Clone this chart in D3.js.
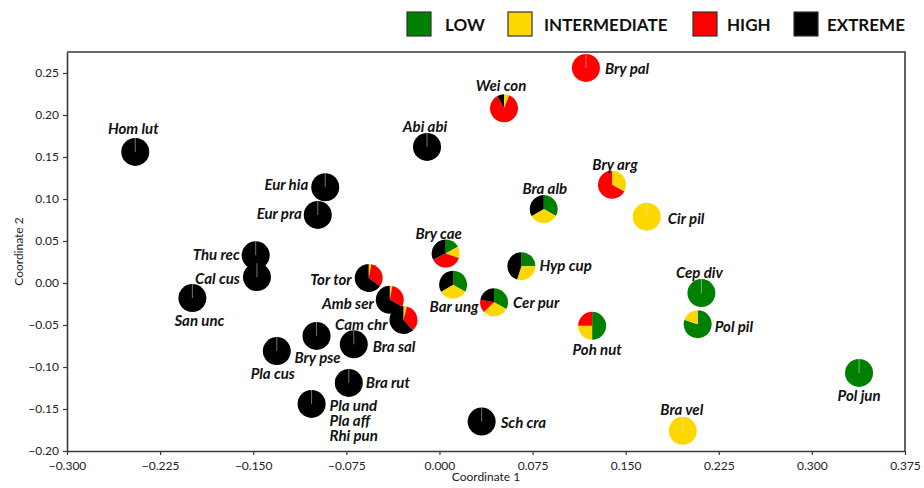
<!DOCTYPE html>
<html>
<head>
<meta charset="utf-8">
<script src="https://cdn.jsdelivr.net/npm/d3@7"></script>
<style>
  html, body { margin: 0; padding: 0; background: #fff; }
  svg { display: block; }
</style>
</head>
<body>
<svg id="chart" width="924" height="488"></svg>
<script>
// Species ordination scores with the share of records in each pressure class
const species = ["Hom lut","Abi abi","Wei con","Bry pal","Bry arg","Bra alb","Cir pil","Eur hia","Eur pra","Thu rec",
                 "Cal cus","San unc","Tor tor","Amb ser","Cam chr","Bry cae","Bar ung","Cer pur","Hyp cup","Poh nut",
                 "Cep div","Pol pil","Pol jun","Bra vel","Sch cra","Bra rut","Pla und\nPla aff\nRhi pun","Bra sal","Bry pse","Pla cus"];
const coord1 = [-0.245,-0.010, 0.052, 0.118, 0.139, 0.084, 0.167,-0.092,-0.098,-0.148,
                -0.147,-0.199,-0.057,-0.040,-0.029, 0.005, 0.011, 0.044, 0.066, 0.123,
                 0.211, 0.208, 0.338, 0.196, 0.034,-0.073,-0.103,-0.069,-0.099,-0.131];
const coord2 = [ 0.156, 0.162, 0.208, 0.256, 0.117, 0.088, 0.079, 0.114, 0.081, 0.033,
                 0.007,-0.018, 0.006,-0.020,-0.044, 0.035,-0.002,-0.023, 0.020,-0.051,
                -0.012,-0.049,-0.107,-0.176,-0.165,-0.119,-0.144,-0.073,-0.063,-0.081];
const low          = [0,0,0,0,0,1,0,0,0,0, 0,0,0,0,0,0.17,1,0.33,0.25,0.5, 1,0.8,1,0,0,0,0,0,0,0];
const intermediate = [0,0,0.06,0,0.33,1,1,0,0,0, 0,0,0.03,0.03,0.04,0.13,1,0.30,0.30,0.25, 0,0.2,0,1,0,0,0,0,0,0];
const high         = [0,0,0.86,1,0.67,0,0,0,0,0, 0,0,0.32,0.30,0.34,0.38,0,0.15,0,0.25, 0,0,0,0,0,0,0,0,0,0];
const extreme      = [1,1,0.08,0,0,1,0,1,1,1, 1,1,0.65,0.67,0.62,0.32,1,0.22,0.45,0, 0,0,0,0,1,1,1,1,1,1];

const categories = ["LOW","INTERMEDIATE","HIGH","EXTREME"];
const catColors  = ["#008000","#FFD700","#FF0000","#000000"];
const xTicks = [-0.300,-0.225,-0.150,-0.075,0.000,0.075,0.150,0.225,0.300,0.375];
const yTicks = [-0.20,-0.15,-0.10,-0.05,0.00,0.05,0.10,0.15,0.20,0.25];

// Label placement around each pie: side and pixel nudge
const labelSide = ["t","t","t","r","t","t","r","l","l","l",
                   "l","b","l","l","l","t","b","r","r","b",
                   "t","r","b","t","r","r","r","r","b","b"];
const labelNudge = [[-2,-24],[-2,-21],[-3,-23],[19,0],[3,-21],[1,-21],[21,1],[-17,-3],[-16,-2],[-16,-1],
                    [-17,1],[7,22],[-17,1],[-16,3],[-16,4],[-7,-21],[1,21],[19,0],[18,-1],[5,23],
                    [-2,-21],[17,2],[0,22],[-1,-22],[19,0],[17,-1],[18,1],[19,2],[1,21],[-4,22]];

const svg = d3.select("#chart");
const margin = {left: 67, right: 19, top: 52, bottom: 37};
const W = 924, H = 488;

const x = d3.scaleLinear().domain([-0.300, 0.375]).range([margin.left, W - margin.right]);
const y = d3.scaleLinear().domain([-0.20, 0.275]).range([H - margin.bottom, margin.top]);

const axisColor = "#3a3a3a";
const tickFont = "Lato, 'Open Sans', sans-serif";

// Frame: top and right borders
svg.append("path")
  .attr("d", `M${x(-0.300)},${y(0.275)}H${x(0.375)}V${y(-0.20)}`)
  .attr("fill", "none").attr("stroke", axisColor).attr("stroke-width", 1.6);

// Axes
const gx = svg.append("g")
  .attr("transform", `translate(0,${y(-0.20)})`)
  .call(d3.axisBottom(x).tickValues(xTicks).tickFormat(d3.format(".3f")).tickSize(4).tickSizeOuter(0));
const gy = svg.append("g")
  .attr("transform", `translate(${x(-0.300)},0)`)
  .call(d3.axisLeft(y).tickValues(yTicks).tickFormat(d3.format(".2f")).tickSize(4).tickSizeOuter(0));

[gx, gy].forEach(g => {
  g.select(".domain").attr("stroke", axisColor).attr("stroke-width", 1.6);
  g.selectAll(".tick line").attr("stroke", axisColor).attr("stroke-width", 1.2);
  g.selectAll(".tick text").attr("fill", "#222").style("font-family", tickFont).style("font-size", "12px");
});
gx.selectAll(".tick text").attr("dy", "1.0em");
gy.selectAll(".tick text").attr("dx", "-1px");

svg.append("text")
  .attr("x", (x(-0.300) + x(0.375)) / 2).attr("y", 481)
  .attr("text-anchor", "middle")
  .style("font-family", tickFont).style("font-size", "12px").attr("fill", "#222")
  .text("Coordinate 1");
svg.append("text")
  .attr("transform", `translate(23,${(y(-0.20) + y(0.275)) / 2}) rotate(-90)`)
  .attr("text-anchor", "middle")
  .style("font-family", tickFont).style("font-size", "12px").attr("fill", "#222")
  .text("Coordinate 2");

// Pies
const pie = d3.pie().sort(null).value(d => d.v);
const arc = d3.arc().innerRadius(0).outerRadius(14);

const pts = species.map((name, i) => ({
  name, i,
  cx: x(coord1[i]), cy: y(coord2[i]),
  parts: [low[i], intermediate[i], high[i], extreme[i]].map((v, k) => ({v, k}))
}));

const pg = svg.append("g").selectAll("g").data(pts).join("g")
  .attr("transform", d => `translate(${d.cx},${d.cy})`);

pg.each(function(d) {
  const g = d3.select(this);
  const active = d.parts.filter(p => p.v > 0);
  g.selectAll("path").data(pie(d.parts)).join("path")
    .attr("d", arc)
    .attr("fill", a => catColors[a.data.k]);
  if (active.length === 1) {
    g.append("line").attr("x1", 0).attr("y1", 0).attr("x2", 0).attr("y2", -14)
      .attr("stroke", "rgba(255,255,255,0.45)").attr("stroke-width", 1);
  }
});

// Labels
const lg = svg.append("g")
  .style("font-family", "Lato, 'Open Sans', sans-serif")
  .style("font-size", "15px").style("font-weight", "bold").style("font-style", "italic")
  .attr("fill", "#111");

pts.forEach(d => {
  const side = labelSide[d.i];
  const [dx, dy] = labelNudge[d.i];
  const anchor = side === "l" ? "end" : side === "r" ? "start" : "middle";
  d.name.split("\n").forEach((line, j) => {
    lg.append("text")
      .attr("x", d.cx + dx).attr("y", d.cy + dy + j * 15)
      .attr("text-anchor", anchor)
      .attr("dominant-baseline", "central")
      .text(line);
  });
});

// Legend
const legSquareX = [407, 508, 693, 794];
const legTextX   = [445, 544, 727, 827];
const leg = svg.append("g");
categories.forEach((c, k) => {
  leg.append("rect").attr("x", legSquareX[k]).attr("y", 12).attr("width", 24).attr("height", 24)
    .attr("fill", catColors[k]).attr("stroke", "#333").attr("stroke-width", 1.2);
  leg.append("text").attr("x", legTextX[k]).attr("y", 24)
    .attr("dominant-baseline", "central")
    .style("font-family", "Lato, 'Open Sans', sans-serif").style("font-size", "17px").style("font-weight", "bold")
    .attr("fill", "#111").text(c);
});
</script>
</body>
</html>
